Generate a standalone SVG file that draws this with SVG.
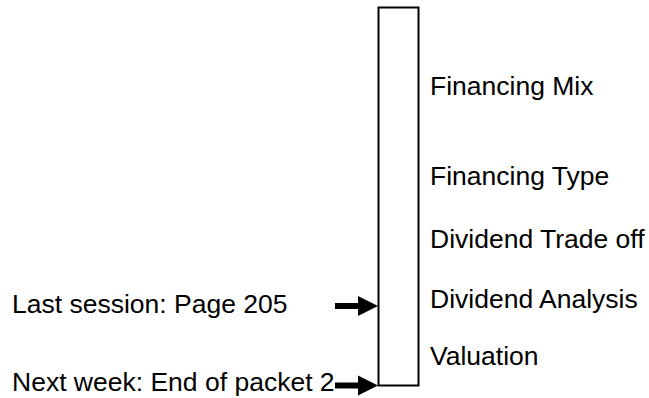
<svg xmlns="http://www.w3.org/2000/svg" width="649" height="398" viewBox="0 0 649 398">
<style>
text { font-family: "Liberation Sans", Arial, sans-serif; font-size: 26.5px; fill: #000; }
.shaft { stroke: #000; stroke-width: 6; fill: none; }
.head { fill: #000; }
</style>
<rect width="649" height="398" fill="#fff"/>
<g id="bar">
<rect x="378.5" y="7.5" width="40" height="378" fill="#fff" stroke="#000" stroke-width="2"/>
</g>
<g id="labels-right">
<text x="430" y="95">Financing Mix</text>
<text x="430" y="185">Financing Type</text>
<text x="430" y="248">Dividend Trade off</text>
<text x="430" y="308">Dividend Analysis</text>
<text x="430" y="365">Valuation</text>
</g>
<g id="last-session">
<text x="12" y="313">Last session: Page 205</text>
</g>
<g id="next-week">
<text x="12" y="391">Next week: End of packet 2</text>
</g>
<g id="connectors">
<line class="shaft" x1="335" y1="306" x2="362" y2="306"/>
<polygon class="head" points="358,296 378,306 358,316"/>
<line class="shaft" x1="335" y1="385.5" x2="362" y2="385.5"/>
<polygon class="head" points="358,375.5 378,385.5 358,395.5"/>
</g>
</svg>
